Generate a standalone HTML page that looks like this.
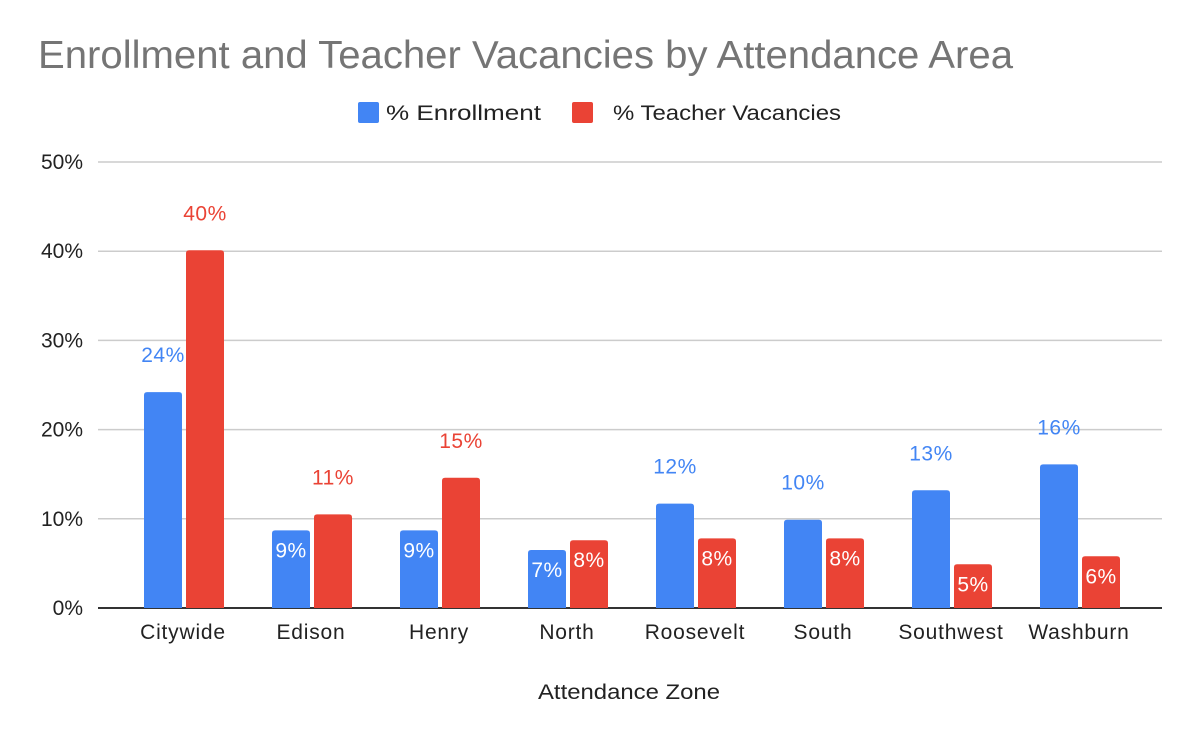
<!DOCTYPE html>
<html><head><meta charset="utf-8"><style>
body{margin:0;background:#fff;font-family:"Liberation Sans",Arial,sans-serif;}
svg{display:block}
</style></head><body>
<svg id="chart" width="1200" height="742" xmlns="http://www.w3.org/2000/svg">
<text x="38" y="68" font-size="39" fill="#757575" textLength="975" lengthAdjust="spacingAndGlyphs">Enrollment and Teacher Vacancies by Attendance Area</text>
<g>
<rect x="358" y="102" width="21" height="21" rx="2" fill="#4285f4"/>
<text x="386" y="120" font-size="21" fill="#222" textLength="155" lengthAdjust="spacingAndGlyphs">% Enrollment</text>
<rect x="572" y="102" width="21" height="21" rx="2" fill="#ea4335"/>
<text x="613" y="120" font-size="21" fill="#222" textLength="228" lengthAdjust="spacingAndGlyphs">% Teacher Vacancies</text>
</g>
<g id="grid"></g><g id="bars"></g>
<text x="629" y="699" font-size="21" text-anchor="middle" fill="#222" textLength="182" lengthAdjust="spacingAndGlyphs">Attendance Zone</text>
</svg>
<script>
const categories=["Citywide","Edison","Henry","North","Roosevelt","South","Southwest","Washburn"];
const enrollment=[24.2,8.7,8.7,6.5,11.7,9.9,13.2,16.1];
const vacancies=[40.1,10.5,14.6,7.6,7.8,7.8,4.9,5.8];
const yTicks=[0,10,20,30,40,50];
const NS="http://www.w3.org/2000/svg";
const y0=608,pxPer=(608-162)/50;
const y=v=>y0-v*pxPer;
const xc=i=>184+i*128;
function mk(t,a,p){const e=document.createElementNS(NS,t);for(const k in a)e.setAttribute(k,a[k]);p.appendChild(e);return e;}
const grid=document.getElementById('grid'),bars=document.getElementById('bars');
yTicks.forEach(t=>{
 const l=mk('line',{x1:98,x2:1162,y1:y(t),y2:y(t),stroke:t===0?'#333':'#ccc','stroke-width':t===0?2:1.5},grid);
 
 
 const tx=mk('text',{x:83,y:y(t)+7,'font-size':21,'text-anchor':'end',fill:'#222'},grid);
 tx.textContent=t+'%';
 
 
});
categories.forEach((c,i)=>{
 const lab=mk('text',{x:xc(i)-1,y:639,'font-size':21,'text-anchor':'middle',fill:'#222','letter-spacing':0.8},bars);
 lab.textContent=c;
 
 
 [[enrollment,'#4285f4',-40,'enrollment'],[vacancies,'#ea4335',2,'vacancies']].forEach(([arr,col,off,nm])=>{
  const v=arr[i],x=xc(i)+off,top=y(v);
  const r=mk('path',{d:`M${x},${y0} V${top+3} Q${x},${top} ${x+3},${top} H${x+35} Q${x+38},${top} ${x+38},${top+3} V${y0} Z`,fill:col},bars);
  
  
  const inside=v<9.5;
  const t=mk('text',{x:x+19,y:inside?top+27:top-30,'font-size':21,'text-anchor':'middle',fill:inside?'#fff':col,'letter-spacing':0.5},bars);
  t.textContent=Math.round(v)+'%';
  
  
 });
});
</script>
</body></html>
